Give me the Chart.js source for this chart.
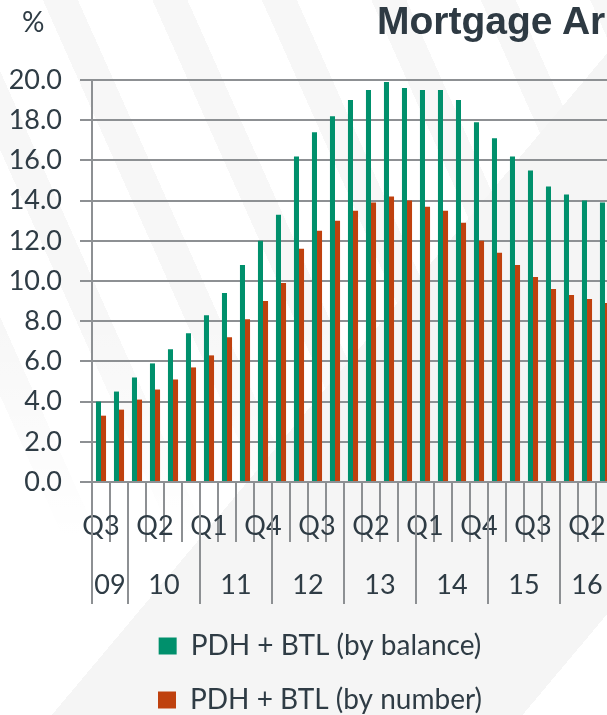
<!DOCTYPE html>
<html>
<head>
<meta charset="utf-8">
<script src="https://cdn.jsdelivr.net/npm/chart.js@4/dist/chart.umd.min.js"></script>
<style>
  html, body { margin: 0; padding: 0; background: #fff; }
  #frame {
    position: relative;
    width: 607px;
    height: 715px;
    overflow: hidden;
    background:
      linear-gradient(130deg, rgba(245,245,245,0) 0 54%, #f5f5f5 54% 93%, rgba(245,245,245,0) 93%),
      linear-gradient(180deg, rgba(255,255,255,0) 0 45%, #fff 75%),
      repeating-linear-gradient(66deg, rgba(0,0,0,0) 0 30px, rgba(0,0,0,0.03) 30px 62px, rgba(0,0,0,0) 62px 100px),
      #fff;
  }
  #chart { position: absolute; left: 0; top: 0; }
  #unit {
    position: absolute; left: 22px; top: 4px;
    font: 28px Lato, sans-serif; color: #2f3c45;
  }
  #title {
    position: absolute; left: 377px; top: 1px; white-space: nowrap;
    font: bold 39px "Liberation Sans", Arial, sans-serif; line-height: 1; color: #2e3a43;
  }
</style>
</head>
<body>
<div id="frame">
  <canvas id="chart" width="614" height="724"></canvas>
  <div id="unit">%</div>
  <div id="title">Mortgage Arrears</div>
</div>
<script>
/* globals Chart */

// quarters from 2009 Q3 to 2016 Q3
const quarters = [
  "Q3", "Q4",
  "Q1", "Q2", "Q3", "Q4",
  "Q1", "Q2", "Q3", "Q4",
  "Q1", "Q2", "Q3", "Q4",
  "Q1", "Q2", "Q3", "Q4",
  "Q1", "Q2", "Q3", "Q4",
  "Q1", "Q2", "Q3", "Q4",
  "Q1", "Q2", "Q3",
];
const years = ["09", "10", "11", "12", "13", "14", "15", "16"];

const byBalance = [
  4.0, 4.5, 5.2, 5.9, 6.6, 7.4, 8.3, 9.4, 10.8, 12.0, 13.3, 16.2, 17.4, 18.2,
  19.0, 19.5, 19.9, 19.6, 19.5, 19.5, 19.0, 17.9, 17.1, 16.2, 15.5, 14.7, 14.3,
  14.0, 13.9,
];
const byNumber = [
  3.3, 3.6, 4.1, 4.6, 5.1, 5.7, 6.3, 7.2, 8.1, 9.0, 9.9, 11.6, 12.5, 13.0,
  13.5, 13.9, 14.2, 14.0, 13.7, 13.5, 12.9, 12.0, 11.4, 10.8, 10.2, 9.6, 9.3,
  9.1, 8.9,
];

const seriesNames = ["PDH + BTL (by balance)", "PDH + BTL (by number)"];

const GREEN = "#00906c";
const RED = "#bf410e";
const LINE = "#8d9093";
const TEXT = "#2f3c45";
const FONT = "Lato, 'Open Sans', sans-serif";

// second row of the x axis: year names and the long separators
const yearRow = {
  id: "yearRow",
  afterDraw(chart) {
    const x = chart.scales.x;
    const ctx = chart.ctx;
    const half = (x.getPixelForValue(1) - x.getPixelForValue(0)) / 2;
    const starts = [];
    quarters.forEach((q, i) => {
      if (i === 0 || q === "Q1") starts.push(i);
    });
    ctx.save();
    ctx.strokeStyle = LINE;
    ctx.lineWidth = 2;
    ctx.fillStyle = TEXT;
    ctx.font = "27px " + FONT;
    ctx.textAlign = "center";
    ctx.textBaseline = "middle";
    starts.forEach((s, k) => {
      const left = x.getPixelForValue(s) - half;
      const last = k + 1 < starts.length ? starts[k + 1] - 1 : quarters.length - 1;
      const right = x.getPixelForValue(last) + half;
      ctx.beginPath();
      ctx.moveTo(left, x.top);
      ctx.lineTo(left, x.top + 122);
      ctx.stroke();
      ctx.fillText(years[k], (left + right) / 2, x.top + 103);
    });
    ctx.restore();
  },
};

// push the legend block a little to the right of the canvas centre
const legendShift = {
  id: "legendShift",
  afterLayout(chart) {
    chart.legend.left += 26;
  },
};

const ctx = document.getElementById("chart").getContext("2d");

/* exported myChart */
const myChart = new Chart(ctx, {
  type: "bar",
  plugins: [yearRow, legendShift],
  data: {
    labels: quarters,
    datasets: [
      { label: seriesNames[0], data: byBalance, backgroundColor: GREEN },
      { label: seriesNames[1], data: byNumber, backgroundColor: RED },
    ],
  },
  options: {
    responsive: false,
    animation: false,
    events: [],
    devicePixelRatio: 1,
    layout: { padding: { left: 0, top: 80, right: 0, bottom: 0 } },
    datasets: {
      bar: { categoryPercentage: 0.56, barPercentage: 1.0 },
    },
    scales: {
      x: {
        offset: true,
        afterFit(scale) {
          scale.height = 124;
        },
        grid: {
          offset: true,
          drawOnChartArea: false,
          drawTicks: true,
          tickLength: 60,
          color: LINE,
          lineWidth: 2,
        },
        border: { display: true, color: LINE, width: 2 },
        ticks: {
          autoSkip: false,
          maxRotation: 0,
          padding: -32,
          color: TEXT,
          font: { family: FONT, size: 27 },
          callback(value, index) {
            return index % 3 === 0 ? quarters[index] : "";
          },
        },
      },
      y: {
        min: 0,
        max: 20,
        afterFit(scale) {
          scale.width = 92;
        },
        grid: { color: LINE, lineWidth: 2, tickLength: 12 },
        border: { display: true, color: LINE, width: 2 },
        ticks: {
          stepSize: 2,
          padding: 18,
          color: TEXT,
          font: { family: FONT, size: 27 },
          callback: (v) => v.toFixed(1),
        },
      },
    },
    plugins: {
      title: { display: false },
      tooltip: { enabled: false },
      legend: {
        position: "bottom",
        labels: {
          boxWidth: 18,
          boxHeight: 17,
          padding: 26,
          color: TEXT,
          font: { family: FONT, size: 28 },
        },
      },
    },
  },
});
</script>
</body>
</html>
